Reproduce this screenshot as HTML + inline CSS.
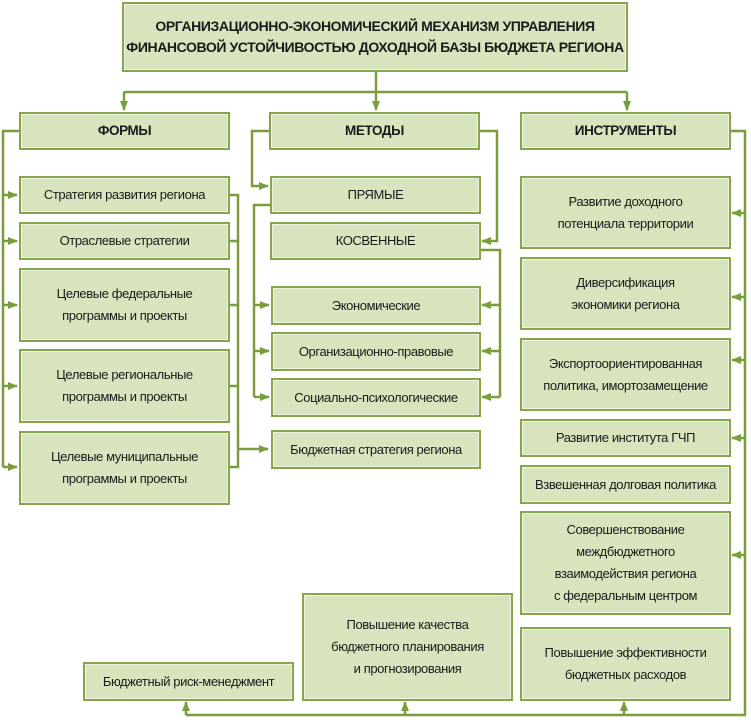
<!DOCTYPE html>
<html><head><meta charset="utf-8"><style>
body{margin:0;width:751px;height:720px;background:#fff;position:relative;overflow:hidden;font-family:"Liberation Sans",sans-serif;}
.b{position:absolute;box-sizing:border-box;background:#d8e4bd;border:2px solid #86a54c;box-shadow:inset 0 0 0 1px #eef4e0;display:flex;align-items:center;justify-content:center;text-align:center;font-size:13px;letter-spacing:-0.4px;line-height:22px;color:#1a1a1a;}
.h{font-weight:bold;font-size:13.5px;}
svg{position:absolute;left:0;top:0;}
</style></head><body>
<svg width="751" height="720" viewBox="0 0 751 720">
<defs><marker id="a" markerWidth="10" markerHeight="8" refX="9" refY="4" orient="auto" markerUnits="userSpaceOnUse"><path d="M0,0 L10,4 L0,8 z" fill="#7a9e3c"/></marker></defs>
<g stroke="#7a9e3c" stroke-width="2.5" fill="none">
<path d="M376,72 V110" marker-end="url(#a)"/>
<path d="M124,92 H627"/>
<path d="M124,92 V110" marker-end="url(#a)"/>
<path d="M627,92 V110" marker-end="url(#a)"/>
<!-- forms left bus -->
<path d="M19,131 H3 V467"/>
<path d="M3,195 H17" marker-end="url(#a)"/>
<path d="M3,241 H17" marker-end="url(#a)"/>
<path d="M3,305 H17" marker-end="url(#a)"/>
<path d="M3,386 H17" marker-end="url(#a)"/>
<path d="M3,467 H17" marker-end="url(#a)"/>
<!-- forms right bus -->
<path d="M229,195 H238 V467 H229"/>
<path d="M229,241 H238 M229,305 H238 M229,386 H238"/>
<path d="M238,449 H268" marker-end="url(#a)"/>
<!-- methods -->
<path d="M269,131 H252 V186 H268" marker-end="url(#a)"/>
<path d="M270,205 H254 V397"/>
<path d="M254,305 H269" marker-end="url(#a)"/>
<path d="M254,351 H269" marker-end="url(#a)"/>
<path d="M254,397 H269" marker-end="url(#a)"/>
<path d="M480,131 H497 V241 H482" marker-end="url(#a)"/>
<path d="M480,250 H500 V397"/>
<path d="M500,305 H482" marker-end="url(#a)"/>
<path d="M500,351 H482" marker-end="url(#a)"/>
<path d="M500,397 H482" marker-end="url(#a)"/>
<!-- instruments -->
<path d="M730,131 H745 V715 H186"/>
<path d="M745,213 H732" marker-end="url(#a)"/>
<path d="M745,297 H732" marker-end="url(#a)"/>
<path d="M745,360 H732" marker-end="url(#a)"/>
<path d="M745,438 H732" marker-end="url(#a)"/>
<path d="M745,555 H732" marker-end="url(#a)"/>
<path d="M186,715 V702" marker-end="url(#a)"/>
<path d="M405,715 V702" marker-end="url(#a)"/>
<path d="M624,715 V702" marker-end="url(#a)"/>
</g></svg>
<div class="b h" style="left:122px;top:2px;width:506px;height:70px;font-size:14px;line-height:21px;">ОРГАНИЗАЦИОННО-ЭКОНОМИЧЕСКИЙ МЕХАНИЗМ УПРАВЛЕНИЯ<br>ФИНАНСОВОЙ УСТОЙЧИВОСТЬЮ ДОХОДНОЙ БАЗЫ БЮДЖЕТА РЕГИОНА</div>
<div class="b h" style="left:19px;top:112px;width:211px;height:38px;">ФОРМЫ</div>
<div class="b h" style="left:269px;top:112px;width:211px;height:38px;">МЕТОДЫ</div>
<div class="b h" style="left:520px;top:112px;width:211px;height:38px;">ИНСТРУМЕНТЫ</div>
<div class="b" style="left:19px;top:176px;width:211px;height:38px;">Стратегия развития региона</div>
<div class="b" style="left:19px;top:222px;width:211px;height:38px;">Отраслевые стратегии</div>
<div class="b" style="left:19px;top:268px;width:211px;height:74px;">Целевые федеральные<br>программы и проекты</div>
<div class="b" style="left:19px;top:349px;width:211px;height:74px;">Целевые региональные<br>программы и проекты</div>
<div class="b" style="left:19px;top:431px;width:211px;height:74px;">Целевые муниципальные<br>программы и проекты</div>
<div class="b" style="left:270px;top:176px;width:211px;height:38px;">ПРЯМЫЕ</div>
<div class="b" style="left:270px;top:222px;width:211px;height:38px;">КОСВЕННЫЕ</div>
<div class="b" style="left:271px;top:286px;width:210px;height:39px;">Экономические</div>
<div class="b" style="left:271px;top:332px;width:210px;height:39px;">Организационно-правовые</div>
<div class="b" style="left:271px;top:378px;width:210px;height:39px;">Социально-психологические</div>
<div class="b" style="left:271px;top:430px;width:210px;height:39px;">Бюджетная стратегия региона</div>
<div class="b" style="left:520px;top:176px;width:211px;height:73px;">Развитие доходного<br>потенциала территории</div>
<div class="b" style="left:520px;top:257px;width:211px;height:73px;">Диверсификация<br>экономики региона</div>
<div class="b" style="left:520px;top:338px;width:211px;height:73px;">Экспортоориентированная<br>политика, имортозамещение</div>
<div class="b" style="left:520px;top:419px;width:211px;height:38px;">Развитие института ГЧП</div>
<div class="b" style="left:520px;top:465px;width:211px;height:39px;">Взвешенная долговая политика</div>
<div class="b" style="left:520px;top:511px;width:211px;height:104px;">Совершенствование<br>междбюджетного<br>взаимодействия региона<br>с федеральным центром</div>
<div class="b" style="left:520px;top:627px;width:211px;height:74px;">Повышение эффективности<br>бюджетных расходов</div>
<div class="b" style="left:302px;top:593px;width:211px;height:108px;">Повышение качества<br>бюджетного планирования<br>и прогнозирования</div>
<div class="b" style="left:83px;top:662px;width:211px;height:39px;">Бюджетный риск-менеджмент</div>
</body></html>
